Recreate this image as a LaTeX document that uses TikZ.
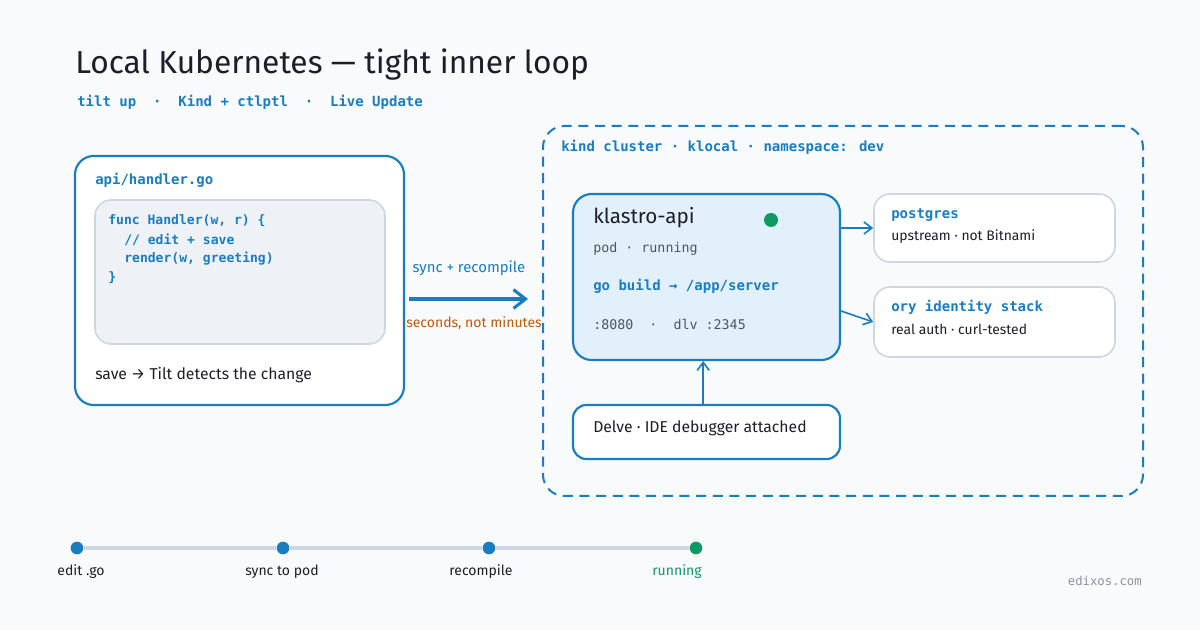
\documentclass[tikz,border=0pt]{standalone}
\usepackage{fontspec}
\setmainfont{Fira Sans}
\newfontfamily\hand{Fira Sans}
\newfontfamily\mono{DejaVu Sans Mono}
\usetikzlibrary{arrows.meta,calc}
\definecolor{bg}{HTML}{F8FAFC}
\definecolor{kblue}{HTML}{1A7DC0}
\definecolor{podfill}{HTML}{E2F0FB}
\definecolor{codefill}{HTML}{EEF2F7}
\definecolor{codeline}{HTML}{CDD6E1}
\definecolor{dark}{HTML}{1E1E2A}
\definecolor{graytxt}{HTML}{4B5563}
\definecolor{kgreen}{HTML}{0E9A62}
\definecolor{korange}{HTML}{C05A0A}
\definecolor{tline}{HTML}{CDD6E1}
\definecolor{signgray}{HTML}{8A94A6}
\tikzset{
  boxblue/.style={draw=kblue, line width=1.6pt, rounded corners=14pt, inner sep=0pt},
  boxgray/.style={draw=codeline, line width=1.2pt, rounded corners=12pt, inner sep=0pt, fill=white},
  lbl/.style={anchor=west, inner sep=0pt},
  handtxt/.style={font=\hand\fontsize{11.8}{14}\selectfont, text=dark},
  smallhand/.style={font=\hand\fontsize{10.4}{12}\selectfont, text=dark},
  monoblue/.style={font=\mono\bfseries\fontsize{10.5}{12}\selectfont, text=kblue},
  monogray/.style={font=\mono\fontsize{10}{12}\selectfont, text=graytxt},
  codetxt/.style={font=\mono\bfseries\fontsize{9.8}{12}\selectfont, text=kblue},
  arr/.style={draw=kblue, line width=1.2pt, -{Straight Barb[length=6pt,width=9pt]}},
  bigarr/.style={draw=kblue, line width=2.3pt, -{Straight Barb[length=9pt,width=14pt]}},
  tdot/.style={circle, minimum size=9.5pt, inner sep=0pt, fill=kblue},
  tlab/.style={inner sep=0pt, font=\hand\fontsize{10.5}{12}\selectfont, text=dark},
}
\begin{document}
\begin{tikzpicture}[x=0.75pt,y=-0.75pt]
\fill[bg] (0,0) rectangle (1200,630);
\useasboundingbox (0,0) rectangle (1200,630);

% title
\node[lbl, font=\hand\fontsize{23.8}{28}\selectfont, text=dark] (title) at (75,65) {Local Kubernetes — tight inner loop};
\node[lbl, monoblue] (sub) at (77,102) {tilt up\ \ ·\ \ Kind + ctlptl\ \ ·\ \ Live Update};

% left editor box
\node[boxblue, fill=white, minimum width=246.75pt, minimum height=186.75pt] (left) at (239.5,280.5) {};
\node[lbl, monoblue] (fname) at (95,180) {api/handler.go};
\node[boxgray, fill=codefill, minimum width=217.5pt, minimum height=108pt] (code) at (240,272) {};
\node[lbl, codetxt] (c1) at (108,221) {func Handler(w, r) \{};
\node[lbl, codetxt] (c2) at (124,240) {// edit + save};
\node[lbl, codetxt] (c3) at (124,259) {render(w, greeting)};
\node[lbl, codetxt] (c4) at (108,278) {\}};
\node[lbl, handtxt] (save) at (95,375) {save → Tilt detects the change};

% cluster
\node[draw=kblue, line width=1.5pt, dash pattern=on 7.5pt off 5pt, rounded corners=16pt, inner sep=0pt,
      minimum width=450pt, minimum height=277.5pt] (cluster) at (843,311) {};
\node[lbl, monoblue] (clab) at (561,147) {kind cluster · klocal · namespace: dev};

% main arrow
\draw[bigarr] ($(left.east)+(4,18.5)$) -- ($(cluster.west)+(-14,-12)$);
\node[inner sep=0pt, font=\hand\fontsize{11.2}{13}\selectfont, text=kblue] (sync) at (469,268) {sync + recompile};
\node[inner sep=0pt, font=\hand\fontsize{10.5}{13}\selectfont, text=korange] (secs) at (474,323) {seconds, not minutes};

% pod
\node[boxblue, fill=podfill, minimum width=200.25pt, minimum height=124.5pt] (pod) at (706.5,277) {};
\node[lbl, font=\hand\fontsize{15.5}{18}\selectfont, text=dark] (podname) at (593,218) {klastro-api};
\node[circle, fill=kgreen, minimum size=10.5pt, inner sep=0pt] (gdot) at (771,220) {};
\node[lbl, monogray] (podst) at (593,249) {pod · running};
\node[lbl, monoblue] (build) at (593,286) {go build → /app/server};
\node[lbl, monogray] (ports) at (593,324) {:8080\ \ ·\ \ dlv :2345};

% postgres
\node[boxgray, minimum width=180.75pt, minimum height=51pt] (pg) at (994.5,228) {};
\node[lbl, monoblue] (pgt) at (891,215) {postgres};
\node[lbl, smallhand] (pgs) at (891,237) {upstream · not Bitnami};

% ory
\node[boxgray, minimum width=180.75pt, minimum height=52.5pt] (ory) at (994.5,322) {};
\node[lbl, monoblue] (oryt) at (891,307) {ory identity stack};
\node[lbl, smallhand] (orys) at (891,329) {real auth · curl-tested};

% delve
\node[boxblue, fill=white, minimum width=200.25pt, minimum height=40.5pt, rounded corners=10pt] (delve) at (706.5,432) {};
\node[lbl, handtxt] (delvet) at (593,428) {Delve · IDE debugger attached};

% connectors
\draw[arr] (pod.east |- pg.west) -- (pg.west);
\draw[arr] ($(pod.east)+(0,34)$) -- (ory.west);
\draw[arr] ([xshift=-2.5pt]delve.north) -- ([xshift=-2.5pt]pod.south);

% timeline
\node[tdot] (t1) at (77,548) {};
\node[tdot] (t2) at (283,548) {};
\node[tdot] (t3) at (489,548) {};
\node[tdot, fill=kgreen] (t4) at (696,548) {};
\draw[tline, line width=2.6pt] (t1) -- (t2);
\draw[tline, line width=2.6pt] (t2) -- (t3);
\draw[tline, line width=2.6pt] (t3) -- (t4);
\node[tlab] (l1) at (81,572) {edit .go};
\node[tlab] (l2) at (282,572) {sync to pod};
\node[tlab] (l3) at (481,572) {recompile};
\node[tlab, text=kgreen] (l4) at (677,572) {running};

\node[anchor=east, inner sep=0pt, font=\mono\fontsize{9.2}{11}\selectfont, text=signgray] (sign) at (1142,581) {edixos.com};
\end{tikzpicture}
\end{document}
